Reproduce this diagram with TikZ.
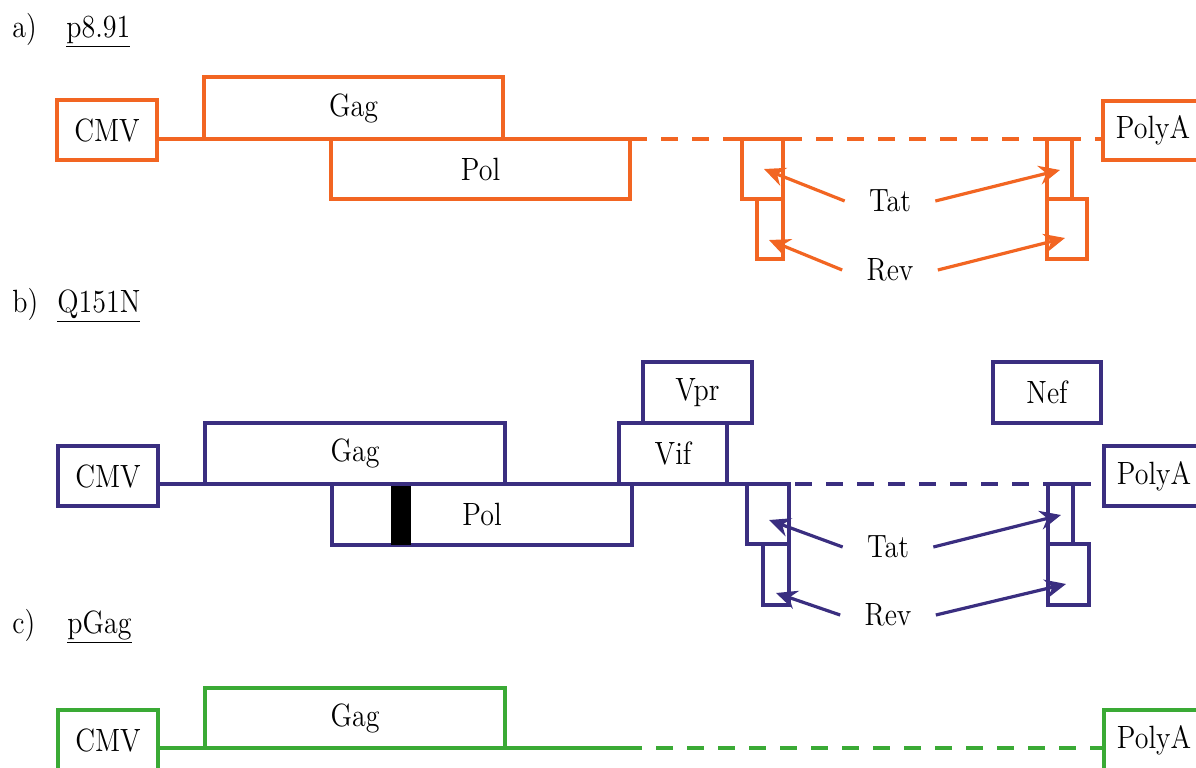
\documentclass[tikz,border=0pt]{standalone}
\usepackage{graphicx}
\usetikzlibrary{arrows.meta}
\definecolor{cA}{RGB}{242,101,34}
\definecolor{cB}{RGB}{58,46,128}
\definecolor{cC}{RGB}{58,170,53}
\newcommand{\stt}[1]{\scalebox{1}[1.15]{#1}}
\tikzset{
  every node/.style={font=\fontsize{14}{17}\selectfont},
  box/.style={draw=#1, rectangle, inner sep=0pt, outer sep=0pt, anchor=north west, line width=1.6pt},
  bb/.style={line width=1.6pt},
  dsh/.style={line width=1.6pt, dash pattern=on 8.5pt off 7pt},
  arr/.style={line width=1.6pt, -{Stealth[length=10.5pt,width=9.5pt,inset=3.5pt]}},
  lbl/.style={inner xsep=12pt, inner ysep=0pt},
  tag/.style={anchor=base west, inner sep=0pt},
}
\begin{document}
\begin{tikzpicture}[x=0.5pt,y=-0.5pt]
\useasboundingbox (0,0) rectangle (1196,767);

% ---------- a) p8.91 ----------
\node[tag] (la) at (12,37) {\stt{a)}};
\node[tag] (na) at (66,37) {\stt{\underline{p8.91}}};
\node[box=cA, minimum width=50pt, minimum height=30pt] (cmvA) at (57,100) {\stt{CMV}};
\node[box=cA, minimum width=149.5pt, minimum height=31pt] (gagA) at (204,77) {\stt{Gag}};
\node[box=cA, minimum width=149.5pt, minimum height=30pt] (polA) at (331,139) {\stt{Pol}};
\node[box=cA, minimum width=50pt, minimum height=29.5pt] (pA) at (1103,101) {\stt{PolyA}};
\node[box=cA, minimum width=20.5pt, minimum height=30pt] (tA1) at (742,139) {};
\node[box=cA, minimum width=13pt, minimum height=30pt] (rA1) at (757,199) {};
\node[box=cA, minimum width=12.5pt, minimum height=30pt] (tA2) at (1047,139) {};
\node[box=cA, minimum width=20pt, minimum height=30pt] (rA2) at (1047,199) {};
\draw[bb, cA] (cmvA.east |- gagA.south) -- (polA.north east);
\draw[dsh, cA] (polA.north east) -- (pA.west |- polA.north);
\node[lbl] (tatA) at (890,201) {\stt{Tat}};
\node[lbl] (revA) at (890,270) {\stt{Rev}};
\coordinate (tA1t) at (764,169);
\coordinate (rA1t) at (769,240);
\coordinate (tA2t) at (1060,170);
\coordinate (rA2t) at (1065,238);
\draw[arr, cA] (tatA.west) -- (tA1t);
\draw[arr, cA] (revA.west) -- (rA1t);
\draw[arr, cA] (tatA.east) -- (tA2t);
\draw[arr, cA] (revA.east) -- (rA2t);

% ---------- b) Q151N ----------
\node[tag] (lb) at (12,312) {\stt{b)}};
\node[tag] (nb) at (57,312) {\stt{\underline{Q151N}}};
\node[box=cB, minimum width=50pt, minimum height=30pt] (cmvB) at (58,446) {\stt{CMV}};
\node[box=cB, minimum width=150pt, minimum height=30.5pt] (gagB) at (205,423) {\stt{Gag}};
\node[box=cB, minimum width=150pt, minimum height=30.5pt] (polB) at (332,484) {\stt{Pol}};
\node[fill=black, inner sep=0pt, outer sep=0pt, anchor=north west, minimum width=10pt, minimum height=30.5pt] (barB) at (391,484) {};
\node[box=cB, minimum width=54pt, minimum height=30.5pt] (vifB) at (619,423) {\stt{Vif}};
\node[box=cB, minimum width=54.5pt, minimum height=30.5pt] (vprB) at (643,362) {\stt{Vpr}};
\node[box=cB, minimum width=54pt, minimum height=30.5pt] (nefB) at (993,362) {\stt{Nef}};
\node[box=cB, minimum width=50pt, minimum height=30pt] (pB) at (1104,446) {\stt{PolyA}};
\node[box=cB, minimum width=21pt, minimum height=30pt] (tB1) at (747,484) {};
\node[box=cB, minimum width=13pt, minimum height=30.5pt] (rB1) at (763,544) {};
\node[box=cB, minimum width=12.5pt, minimum height=30pt] (tB2) at (1048,484) {};
\node[box=cB, minimum width=20.5pt, minimum height=30.5pt] (rB2) at (1048,544) {};
\coordinate (eB) at (733,484);
\draw[bb, cB] (cmvB.east |- gagB.south) -- (eB);
\draw[dsh, cB] (eB) -- (pB.west |- eB);
\node[lbl] (tatB) at (888,547) {\stt{Tat}};
\node[lbl] (revB) at (888,615) {\stt{Rev}};
\coordinate (tB1t) at (769,520);
\coordinate (rB1t) at (776,593);
\coordinate (tB2t) at (1061,515);
\coordinate (rB2t) at (1066,584);
\draw[arr, cB] (tatB.west) -- (tB1t);
\draw[arr, cB] (revB.west) -- (rB1t);
\draw[arr, cB] (tatB.east) -- (tB2t);
\draw[arr, cB] (revB.east) -- (rB2t);

% ---------- c) pGag ----------
\node[tag] (lc) at (12,633) {\stt{c)}};
\node[tag] (nc) at (67,633) {\stt{\underline{pGag}}};
\node[box=cC, minimum width=50pt, minimum height=30pt] (cmvC) at (58,710) {\stt{CMV}};
\node[box=cC, minimum width=150pt, minimum height=30pt] (gagC) at (205,688) {\stt{Gag}};
\node[box=cC, minimum width=50pt, minimum height=30pt] (pC) at (1104,710) {\stt{PolyA}};
\coordinate (eC) at (625,748);
\draw[bb, cC] (cmvC.east |- gagC.south) -- (eC);
\draw[dsh, cC] (eC) -- (pC.west |- eC);
\end{tikzpicture}
\end{document}
